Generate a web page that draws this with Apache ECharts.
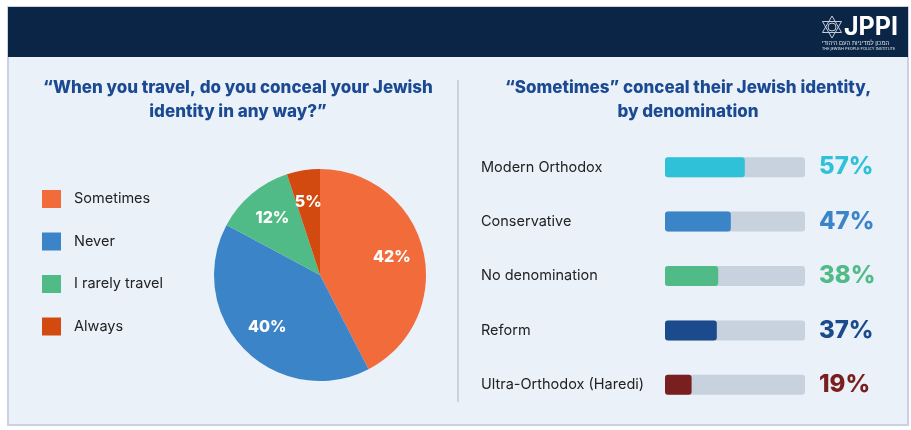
<!DOCTYPE html>
<html lang="en">
<head>
    <meta charset="UTF-8">
    <title>JPPI - conceal Jewish identity</title>
    <script src="https://cdn.jsdelivr.net/npm/echarts@6/dist/echarts.min.js"></script>
    <style>
        html, body { margin: 0; padding: 0; background: #ffffff; }
    </style>
</head>
<body>
<div id="main" style="width: 911px;height:430px;"></div>
<script type="text/javascript">
    // left: pie
    var answers = ['Sometimes', 'Never', 'I rarely travel', 'Always'];
    var answerShares = [42, 40, 12, 5];
    var answerColors = ['#f26c3b', '#3b84c8', '#50bb86', '#d24a10'];

    // right: bars
    var denominations = ['Modern Orthodox', 'Conservative', 'No denomination', 'Reform', 'Ultra-Orthodox (Haredi)'];
    var sometimesShares = [57, 47, 38, 37, 19];
    var denomColors = ['#2fc1d7', '#3b84c8', '#50bb86', '#1b4a8d', '#7a1f1f'];

    var FONT = 'Inter, "Noto Sans", sans-serif';

    var myChart = echarts.init(document.getElementById('main'));

    var pieData = answers.map(function (name, i) {
        return {name: name, value: answerShares[i], itemStyle: {color: answerColors[i]}};
    });

    // hexagram for the logo
    function triangle(cx, cy, r, up) {
        var pts = [];
        for (var k = 0; k < 3; k++) {
            var a = (up ? -90 : 90) + k * 120;
            pts.push([cx + r * Math.cos(a * Math.PI / 180), cy + r * Math.sin(a * Math.PI / 180)]);
        }
        return pts;
    }

    var option = {
        backgroundColor: '#ffffff',
        textStyle: {fontFamily: FONT},
        graphic: [
            {type: 'rect', z: -10, shape: {x: 8, y: 7, width: 900, height: 418},
                style: {fill: '#eaf1f9', stroke: '#c9d3df', lineWidth: 2}},
            {type: 'rect', z: -9, shape: {x: 8, y: 7, width: 900, height: 50},
                style: {fill: '#0b2546'}},
            {type: 'line', z: -9, shape: {x1: 458, y1: 80, x2: 458, y2: 402},
                style: {stroke: '#c9d3df', lineWidth: 2}},
            {type: 'polygon', shape: {points: triangle(832, 27, 11, true)},
                style: {fill: 'none', stroke: '#c7ccd6', lineWidth: 1}},
            {type: 'polygon', shape: {points: triangle(832, 27, 11, false)},
                style: {fill: 'none', stroke: '#c7ccd6', lineWidth: 1}},
            {type: 'circle', shape: {cx: 832, cy: 27, r: 4},
                style: {fill: 'none', stroke: '#c7ccd6', lineWidth: 1}},
            {type: 'text', left: 844, top: 15,
                style: {text: 'JPPI', fill: '#ffffff', font: 'bold 25px ' + FONT}},
            {type: 'text', left: 822, top: 40,
                style: {text: 'המכון למדיניות העם היהודי', fill: '#dfe4ec', font: '6px "Noto Sans", sans-serif'}},
            {type: 'text', left: 822, top: 47,
                style: {text: 'THE JEWISH PEOPLE POLICY INSTITUTE', fill: '#dfe4ec', font: '4px "Noto Sans", sans-serif'}}
        ],
        title: [
            {
                text: '“When you travel, do you conceal your Jewish\nidentity in any way?”',
                left: 233, top: 71, textAlign: 'center',
                textStyle: {fontFamily: FONT, fontSize: 17, fontWeight: 800, color: '#1b4a93', lineHeight: 24}
            },
            {
                text: '“Sometimes” conceal their Jewish identity,\nby denomination',
                left: 683, top: 71, textAlign: 'center',
                textStyle: {fontFamily: FONT, fontSize: 17, fontWeight: 800, color: '#1b4a93', lineHeight: 24}
            }
        ],
        legend: {
            orient: 'vertical',
            left: 42, top: 190,
            padding: 0,
            icon: 'rect',
            itemWidth: 19, itemHeight: 18, itemGap: 24.5,
            selectedMode: false,
            data: answers,
            textStyle: {fontFamily: FONT, fontSize: 14.5, color: '#222222', padding: [0, 0, 0, 8]}
        },
        grid: {left: 665, width: 140, top: 140, height: 272},
        xAxis: {type: 'value', min: 0, max: 100, show: false},
        yAxis: [
            {
                type: 'category', inverse: true, data: denominations,
                axisLine: {show: false}, axisTick: {show: false},
                axisLabel: {align: 'left', margin: 184, fontFamily: FONT, fontSize: 14.5, color: '#222222'}
            },
            {
                type: 'category', inverse: true, position: 'right',
                data: sometimesShares.map(function (v) { return v + '%'; }),
                axisLine: {show: false}, axisTick: {show: false},
                axisLabel: {
                    align: 'left', margin: 14, fontFamily: FONT, fontSize: 24, fontWeight: 800,
                    color: function (value, index) { return denomColors[index]; }
                }
            }
        ],
        series: [
            {
                type: 'pie', name: 'pie',
                center: [320, 275], radius: [0, 106],
                startAngle: 90, clockwise: true,
                silent: true,
                label: {show: false}, labelLine: {show: false},
                data: pieData
            },
            {
                // transparent ring just to place the labels further out
                type: 'pie', name: 'labels',
                center: [320, 275], radius: [36, 106],
                startAngle: 90, clockwise: true,
                silent: true, legendHoverLink: false,
                itemStyle: {color: 'rgba(0,0,0,0)'},
                label: {
                    show: true, position: 'inside', formatter: '{c}%',
                    color: '#ffffff', fontFamily: FONT, fontSize: 16, fontWeight: 800
                },
                labelLine: {show: false},
                data: answers.map(function (name, i) {
                    return {name: name, value: answerShares[i]};
                })
            },
            {
                type: 'bar', yAxisIndex: 0,
                barWidth: 20, silent: true,
                showBackground: true,
                backgroundStyle: {color: '#c8d2de', borderRadius: 3},
                itemStyle: {borderRadius: 3},
                data: sometimesShares.map(function (v, i) {
                    return {value: v, itemStyle: {color: denomColors[i]}};
                })
            }
        ]
    };
    myChart.setOption(option);
</script>
</body>
</html>
